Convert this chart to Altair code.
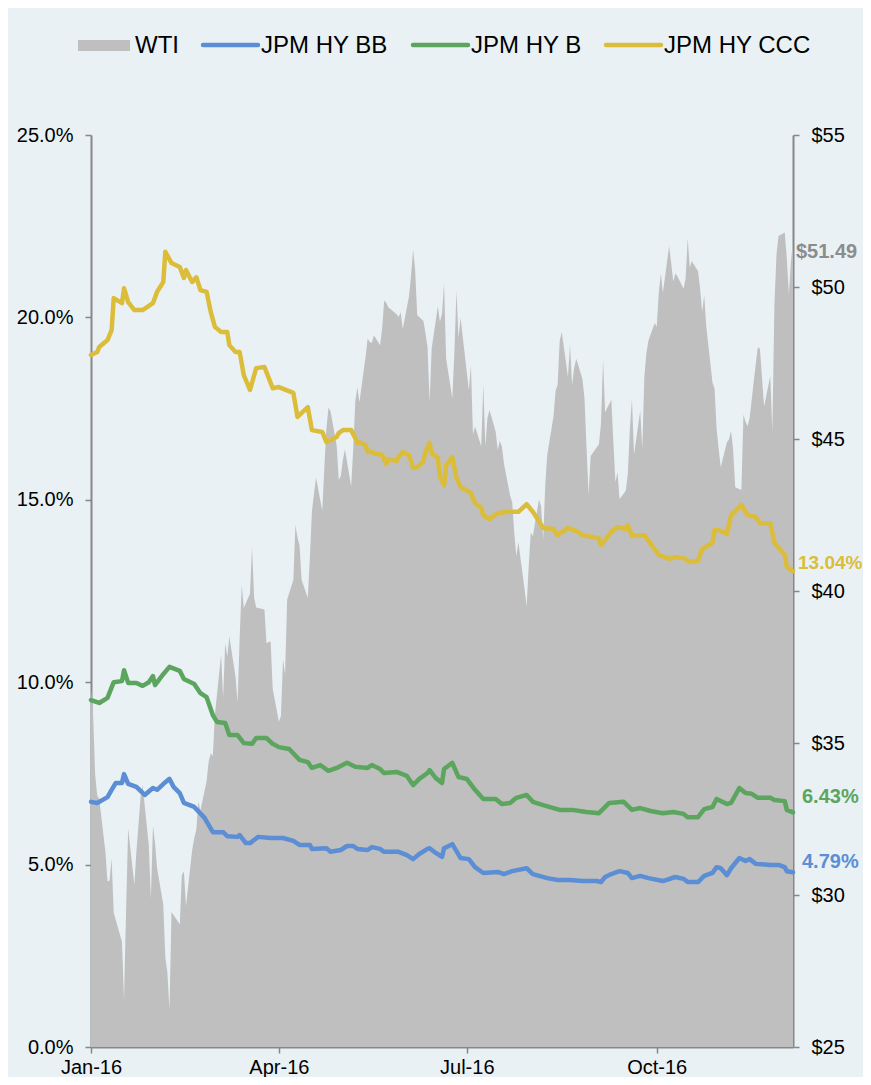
import altair as alt
import pandas as pd

YEAR = "2016-"

# ---------------- WTI (USD / bbl) ----------------
wti_dates = [
    "01-04", "01-05", "01-06", "01-07", "01-08", "01-11", "01-12", "01-13", "01-14", "01-15",
    "01-19", "01-20", "01-21", "01-22", "01-25", "01-26", "01-27", "01-28", "01-29",
    "02-01", "02-02", "02-03", "02-04", "02-05", "02-08", "02-09", "02-10", "02-11", "02-12",
    "02-16", "02-17", "02-18", "02-19", "02-22", "02-23", "02-24", "02-25", "02-26", "02-29",
    "03-01", "03-02", "03-03", "03-04", "03-07", "03-08", "03-09", "03-10", "03-11", "03-14",
    "03-15", "03-16", "03-17", "03-18", "03-21", "03-22", "03-23", "03-24", "03-28", "03-29",
    "03-30", "03-31",
    "04-01", "04-04", "04-05", "04-06", "04-07", "04-08", "04-11", "04-12", "04-13", "04-14",
    "04-15", "04-18", "04-19", "04-20", "04-21", "04-22", "04-25", "04-26", "04-27", "04-28",
    "04-29",
    "05-02", "05-03", "05-04", "05-05", "05-06", "05-09", "05-10", "05-11", "05-12", "05-13",
    "05-16", "05-17", "05-18", "05-19", "05-20", "05-23", "05-24", "05-25", "05-26", "05-27",
    "05-31",
    "06-01", "06-02", "06-03", "06-06", "06-07", "06-08", "06-09", "06-10", "06-13", "06-14",
    "06-15", "06-16", "06-17", "06-20", "06-21", "06-22", "06-23", "06-24", "06-27", "06-28",
    "06-29", "06-30",
    "07-01", "07-05", "07-06", "07-07", "07-08", "07-11", "07-12", "07-13", "07-14", "07-15",
    "07-18", "07-19", "07-20", "07-21", "07-22", "07-25", "07-26", "07-27", "07-28", "07-29",
    "08-01", "08-02", "08-03", "08-04", "08-05", "08-08", "08-09", "08-10", "08-11", "08-12",
    "08-15", "08-16", "08-17", "08-18", "08-19", "08-22", "08-23", "08-24", "08-25", "08-26",
    "08-29", "08-30", "08-31",
    "09-01", "09-02", "09-06", "09-07", "09-08", "09-09", "09-12", "09-13", "09-14", "09-15",
    "09-16", "09-19", "09-20", "09-21", "09-22", "09-23", "09-26", "09-27", "09-28", "09-29",
    "09-30",
    "10-03", "10-04", "10-05", "10-06", "10-07", "10-10", "10-11", "10-12", "10-13", "10-14",
    "10-17", "10-18", "10-19", "10-20", "10-21", "10-24", "10-25", "10-26", "10-27", "10-28",
    "10-31",
    "11-01", "11-02", "11-03", "11-04", "11-07", "11-08", "11-09", "11-10", "11-11", "11-14",
    "11-15", "11-16", "11-17", "11-18", "11-21", "11-22", "11-23", "11-25", "11-28", "11-29",
    "11-30",
    "12-01", "12-02", "12-05", "12-06", "12-07", "12-08", "12-09",
]
wti_values = [
    36.76, 35.97, 33.97, 33.27, 33.16, 31.41, 30.44, 30.48, 31.20, 29.42,
    28.46, 26.55, 29.53, 32.19, 30.34, 31.45, 32.30, 33.22, 33.62,
    31.62, 29.88, 32.28, 31.72, 30.89, 29.69, 27.94, 27.45, 26.21, 29.44,
    29.04, 30.66, 30.77, 29.64, 31.48, 31.87, 32.15, 33.07, 32.78, 33.75,
    34.40, 34.66, 34.57, 35.92, 37.90, 36.50, 38.29, 37.84, 38.50, 37.18,
    36.34, 38.46, 40.20, 39.44, 39.91, 41.45, 39.79, 39.46, 39.39, 38.28,
    38.32, 38.34,
    36.79, 35.70, 35.89, 37.75, 37.26, 39.72, 40.36, 42.17, 41.76, 41.50,
    40.36, 39.78, 41.08, 42.63, 43.18, 43.73, 42.64, 44.04, 45.33, 46.03,
    45.92,
    44.78, 43.65, 43.78, 44.32, 44.66, 43.44, 44.66, 46.23, 46.70, 46.21,
    47.72, 48.31, 48.19, 48.16, 48.41, 48.08, 48.62, 49.56, 49.48, 49.33,
    49.10,
    49.01, 49.17, 48.62, 49.69, 50.36, 51.23, 50.56, 49.07, 48.88, 48.49,
    48.01, 46.21, 47.98, 49.37, 48.85, 49.13, 50.11, 47.64, 46.33, 47.85,
    49.88, 48.33,
    48.99, 46.60, 47.43, 45.14, 45.41, 44.76, 46.80, 44.75, 45.68, 45.95,
    45.24, 44.65, 44.94, 44.75, 44.19, 43.13, 42.92, 41.92, 41.14, 41.60,
    40.06, 39.51, 40.83, 41.93, 41.80, 43.02, 42.77, 41.71, 43.49, 44.49,
    45.74, 46.58, 46.79, 48.22, 48.52, 47.05, 48.10, 46.77, 47.33, 47.64,
    46.98, 46.35, 44.70,
    43.16, 44.44, 44.83, 45.50, 47.62, 45.88, 46.29, 44.90, 43.58, 43.91,
    43.03, 43.30, 43.85, 45.34, 46.32, 44.48, 45.93, 44.67, 47.05, 47.83,
    48.24,
    48.81, 48.69, 49.83, 50.44, 49.81, 51.35, 50.79, 50.18, 50.44, 50.35,
    49.94, 50.29, 51.60, 50.63, 50.85, 50.52, 49.96, 49.18, 49.72, 48.70,
    46.86,
    46.67, 45.34, 44.66, 44.07, 44.89, 44.98, 45.27, 44.66, 43.41, 43.32,
    45.81, 45.57, 45.42, 45.69, 47.49, 48.03, 47.96, 46.06, 47.08, 45.23,
    49.44,
    51.06, 51.68, 51.79, 50.93, 49.77, 50.84, 51.49,
]

# ---------------- JPM HY yields (%) ----------------
bb_dates = [
    "01-04", "01-07", "01-12", "01-14", "01-16", "01-19", "01-20", "01-22", "01-26", "01-30",
    "02-03", "02-05", "02-09", "02-11", "02-13", "02-16", "02-18", "02-23", "02-28",
    "03-03", "03-08", "03-10", "03-15", "03-16", "03-19", "03-21", "03-25", "03-31",
    "04-06", "04-11", "04-14", "04-19", "04-20", "04-27", "04-29",
    "05-04", "05-07", "05-10", "05-12", "05-17", "05-19", "05-23", "05-25",
    "06-01", "06-05", "06-08", "06-11", "06-15", "06-16", "06-19", "06-22", "06-23", "06-27",
    "07-01", "07-05", "07-08", "07-12", "07-19", "07-22", "07-26",
    "08-02", "08-05", "08-12", "08-17", "08-23", "08-29",
    "09-05", "09-07", "09-09", "09-12", "09-16", "09-20", "09-22", "09-26", "09-30",
    "10-07", "10-13", "10-17", "10-19", "10-24", "10-27", "10-31",
    "11-02", "11-04", "11-07", "11-09", "11-13", "11-16", "11-18", "11-21", "11-28",
    "12-02", "12-05", "12-06", "12-09",
]
bb_values = [
    6.72, 6.69, 6.85, 7.05, 7.24, 7.24, 7.48, 7.21, 7.13, 6.91,
    7.10, 7.05, 7.26, 7.35, 7.13, 6.96, 6.69, 6.58, 6.28,
    5.89, 5.89, 5.78, 5.76, 5.81, 5.59, 5.59, 5.76, 5.73,
    5.73, 5.65, 5.54, 5.54, 5.43, 5.45, 5.35,
    5.40, 5.51, 5.51, 5.43, 5.40, 5.48, 5.43, 5.35,
    5.35, 5.26, 5.15, 5.29, 5.43, 5.45, 5.32, 5.21, 5.45, 5.56,
    5.18, 5.15, 4.93, 4.77, 4.80, 4.74, 4.82,
    4.90, 4.74, 4.63, 4.58, 4.58, 4.55,
    4.55, 4.52, 4.66, 4.74, 4.82, 4.77, 4.63, 4.69, 4.63,
    4.55, 4.66, 4.61, 4.52, 4.52, 4.69, 4.77,
    4.93, 4.90, 4.71, 4.90, 5.18, 5.10, 5.15, 5.02, 4.99,
    4.99, 4.93, 4.82, 4.79,
]

b_dates = [
    "01-04", "01-08", "01-12", "01-15", "01-19", "01-20", "01-22", "01-26", "01-29",
    "02-01", "02-03", "02-04", "02-08", "02-11", "02-16", "02-18", "02-23", "02-26", "02-29",
    "03-03", "03-05", "03-09", "03-11", "03-15", "03-18", "03-22", "03-24", "03-29",
    "04-01", "04-04", "04-09", "04-14", "04-18", "04-20", "04-24", "04-28",
    "05-02", "05-07", "05-11", "05-17", "05-19", "05-23", "05-25", "05-31",
    "06-05", "06-08", "06-11", "06-15", "06-16", "06-19", "06-22", "06-23", "06-27", "06-30",
    "07-04", "07-08", "07-12", "07-18", "07-21", "07-25", "07-28",
    "08-02", "08-05", "08-10", "08-18", "08-24", "08-31",
    "09-06", "09-11", "09-18", "09-22", "09-26",
    "10-01", "10-07", "10-12", "10-17", "10-19", "10-24", "10-27", "10-31",
    "11-02", "11-07", "11-09", "11-13", "11-16", "11-19", "11-22", "11-28", "11-30",
    "12-05", "12-06", "12-09",
]
b_values = [
    9.51, 9.43, 9.57, 10.00, 10.03, 10.33, 9.98, 9.98, 9.90,
    10.00, 10.17, 9.92, 10.22, 10.42, 10.31, 10.09, 9.95, 9.70, 9.59,
    9.10, 8.91, 8.88, 8.55, 8.55, 8.33, 8.31, 8.47, 8.47,
    8.31, 8.22, 8.17, 7.87, 7.81, 7.65, 7.73, 7.57,
    7.65, 7.79, 7.68, 7.65, 7.73, 7.62, 7.51, 7.54,
    7.43, 7.18, 7.35, 7.51, 7.59, 7.37, 7.24, 7.62, 7.79, 7.40,
    7.35, 7.05, 6.80, 6.80, 6.66, 6.69, 6.83,
    6.91, 6.72, 6.63, 6.50, 6.50, 6.44,
    6.41, 6.69, 6.72, 6.50, 6.55,
    6.47, 6.41, 6.44, 6.39, 6.30, 6.30, 6.52, 6.58,
    6.80, 6.66, 6.69, 7.10, 6.96, 6.94, 6.83, 6.83, 6.77,
    6.74, 6.50, 6.43,
]

ccc_dates = [
    "01-04", "01-07", "01-08", "01-12", "01-14", "01-15", "01-19", "01-20", "01-22", "01-25",
    "01-29",
    "02-03", "02-05", "02-08", "02-09", "02-12", "02-16", "02-18", "02-19", "02-22", "02-24",
    "02-26", "02-29",
    "03-02", "03-04", "03-07", "03-10", "03-11", "03-14", "03-16", "03-18", "03-21", "03-24",
    "03-28",
    "04-01", "04-04", "04-11", "04-13", "04-18", "04-20", "04-25", "04-27",
    "05-02", "05-03", "05-05", "05-09", "05-11", "05-12", "05-13", "05-16", "05-17", "05-19",
    "05-20", "05-24", "05-26", "05-27", "05-31",
    "06-01", "06-03", "06-06", "06-08", "06-10", "06-13", "06-14", "06-16", "06-17", "06-20",
    "06-21", "06-23", "06-24", "06-27", "06-29",
    "07-01", "07-06", "07-08", "07-11", "07-12", "07-15", "07-19", "07-25", "07-29",
    "08-02", "08-05", "08-10", "08-15", "08-17", "08-22", "08-26", "08-29",
    "09-06", "09-07", "09-12", "09-15", "09-19", "09-20", "09-22", "09-28",
    "10-05", "10-10", "10-13", "10-17", "10-20", "10-24", "10-26", "10-31",
    "11-01", "11-03", "11-07", "11-09", "11-14", "11-17", "11-21", "11-23", "11-28", "11-30",
    "12-05", "12-06", "12-09",
]
ccc_values = [
    18.97, 19.05, 19.19, 19.38, 19.65, 20.53, 20.39, 20.80, 20.42, 20.20,
    20.20,
    20.39, 20.70, 20.97, 21.80, 21.49, 21.38, 21.08, 21.30, 20.97, 21.10,
    20.75, 20.70,
    20.15, 19.74, 19.60, 19.60, 19.24, 19.05, 19.05, 18.42, 18.01, 18.61,
    18.64,
    18.06, 18.09, 17.93, 17.27, 17.54, 16.91, 16.86, 16.58,
    16.72, 16.83, 16.91, 16.91, 16.69, 16.56, 16.58, 16.50, 16.31, 16.31,
    16.28, 16.23, 15.98, 16.12, 16.06,
    16.17, 16.31, 16.23, 15.87, 15.90, 16.04, 16.31, 16.56, 16.28, 16.15,
    15.62, 15.40, 15.95, 16.17, 15.60,
    15.35, 15.19, 14.91, 14.78, 14.58, 14.47, 14.64, 14.67, 14.67,
    14.88, 14.67, 14.23, 14.20, 14.03, 14.23, 14.14, 14.03,
    13.95, 13.76, 14.12, 14.25, 14.20, 14.31, 14.01, 14.03,
    13.49, 13.38, 13.43, 13.40, 13.30, 13.32, 13.65, 13.82,
    14.17, 14.17, 14.06, 14.58, 14.86, 14.58, 14.53, 14.36, 14.36, 13.82,
    13.49, 13.16, 13.04,
]

series_names = ["JPM HY BB", "JPM HY B", "JPM HY CCC"]
series_colors = ["#5B8ED4", "#5BA55E", "#DBBD39"]
wti_color = "#BFBFBF"
wti_label_color = "#8C8C8C"
BG = "#E9F1F5"
AXIS_GREY = "#878787"
FONT = "Liberation Sans"

# ---------------- frames ----------------
def to_dates(lst):
    return pd.to_datetime([YEAR + d for d in lst])

wti_df = pd.DataFrame({"date": to_dates(wti_dates), "value": wti_values})

line_frames = []
for name, ds, vs in zip(series_names, [bb_dates, b_dates, ccc_dates], [bb_values, b_values, ccc_values]):
    line_frames.append(pd.DataFrame({"date": to_dates(ds), "value": vs, "series": name}))
lines_df = pd.concat(line_frames, ignore_index=True)

# ---------------- shared x ----------------
x_start = alt.DateTime(year=2016, month=1, date=4)
x_end = alt.DateTime(year=2016, month=12, date=9)
x_enc = alt.X(
    "date:T",
    scale=alt.Scale(domain=[x_start, x_end], nice=False),
    axis=alt.Axis(
        values=[alt.DateTime(year=2016, month=m, date=4) for m in [1, 4, 7, 10]],
        format="%b-%y",
        title=None,
        labelPadding=4,
        labelFlush=False,
    ),
)

# ---------------- WTI area (right axis) ----------------
wti_scale = alt.Scale(domain=[25, 55], nice=False, zero=False)
wti_axis = alt.Axis(
    orient="right",
    values=[25, 30, 35, 40, 45, 50, 55],
    labelExpr="'$' + datum.value",
    title=None,
    labelPadding=12,
)
area = alt.Chart(wti_df).mark_area(color=wti_color, opacity=1).encode(
    x=x_enc,
    y=alt.Y("value:Q", scale=wti_scale, axis=wti_axis),
    y2=alt.datum(25),
)

wti_last = pd.DataFrame({
    "date": to_dates([wti_dates[-1]]),
    "value": [wti_values[-1]],
    "label": ["$" + format(wti_values[-1], ".2f")],
})
wti_label = alt.Chart(wti_last).mark_text(
    align="left", baseline="middle", dx=3, dy=10, fontSize=20, fontWeight="bold",
    font=FONT, color=wti_label_color,
).encode(x=x_enc, y=alt.Y("value:Q", scale=wti_scale, axis=wti_axis), text="label:N")

wti_layer = alt.layer(area, wti_label)

# ---------------- yield lines (left axis) ----------------
pct_scale = alt.Scale(domain=[0, 25], nice=False)
pct_axis = alt.Axis(
    orient="left",
    values=[0, 5, 10, 15, 20, 25],
    labelExpr="format(datum.value, '.1f') + '%'",
    title=None,
    labelPadding=12,
)
lines = alt.Chart(lines_df).mark_line(
    strokeWidth=4.5, strokeCap="round", strokeJoin="round"
).encode(
    x=x_enc,
    y=alt.Y("value:Q", scale=pct_scale, axis=pct_axis),
    color=alt.Color("series:N", scale=alt.Scale(domain=series_names, range=series_colors), legend=None),
)

label_dy = {"JPM HY BB": -10, "JPM HY B": -15, "JPM HY CCC": -8}
label_dx = {"JPM HY BB": 9, "JPM HY B": 9, "JPM HY CCC": 5}
label_size = {"JPM HY BB": 20, "JPM HY B": 20, "JPM HY CCC": 19}
end_labels = []
for name, color, ds, vs in zip(series_names, series_colors,
                               [bb_dates, b_dates, ccc_dates], [bb_values, b_values, ccc_values]):
    df = pd.DataFrame({"date": to_dates([ds[-1]]), "value": [vs[-1]],
                       "label": [format(vs[-1], ".2f") + "%"]})
    end_labels.append(
        alt.Chart(df).mark_text(
            align="left", baseline="middle", dx=label_dx[name], dy=label_dy[name],
            fontSize=label_size[name], fontWeight="bold", font=FONT, color=color,
        ).encode(x=x_enc, y=alt.Y("value:Q", scale=pct_scale, axis=pct_axis), text="label:N")
    )

pct_layer = alt.layer(lines, *end_labels)

# ---------------- manual legend ----------------
one = pd.DataFrame({"k": [0]})
LEG_Y = -90
legend_parts = [
    alt.Chart(one).mark_rect(color=wti_color).encode(
        x=alt.value(-13), x2=alt.value(39), y=alt.value(LEG_Y - 5), y2=alt.value(LEG_Y + 6)
    )
]
legend_text = [("WTI", 44)]
for name, color, x0 in zip(series_names, series_colors, [112, 322, 515]):
    legend_parts.append(
        alt.Chart(one).mark_rule(color=color, strokeWidth=4.5, strokeCap="round").encode(
            x=alt.value(x0), x2=alt.value(x0 + 55), y=alt.value(LEG_Y)
        )
    )
    legend_text.append((name, x0 + 58))
for txt, x0 in legend_text:
    legend_parts.append(
        alt.Chart(one).mark_text(
            align="left", baseline="middle", fontSize=24, font=FONT, color="#000000", dy=1
        ).encode(x=alt.value(x0), y=alt.value(LEG_Y), text=alt.value(txt))
    )

chart = (
    alt.layer(wti_layer, pct_layer, *legend_parts)
    .resolve_scale(y="independent")
    .properties(
        width=702,
        height=912,
        background=BG,
        padding={"left": 83, "top": 127, "right": 70, "bottom": 30},
        autosize=alt.AutoSizeParams(type="none"),
    )
    .configure_view(stroke=None)
    .configure_axis(
        domainColor=AXIS_GREY,
        domainWidth=2,
        tickColor=AXIS_GREY,
        tickWidth=1.5,
        tickSize=6,
        grid=False,
        labelFont=FONT,
        labelFontSize=20,
        labelColor="#000000",
    )
)

chart.save("out.html", embed_options={"renderer": "svg", "actions": False})
